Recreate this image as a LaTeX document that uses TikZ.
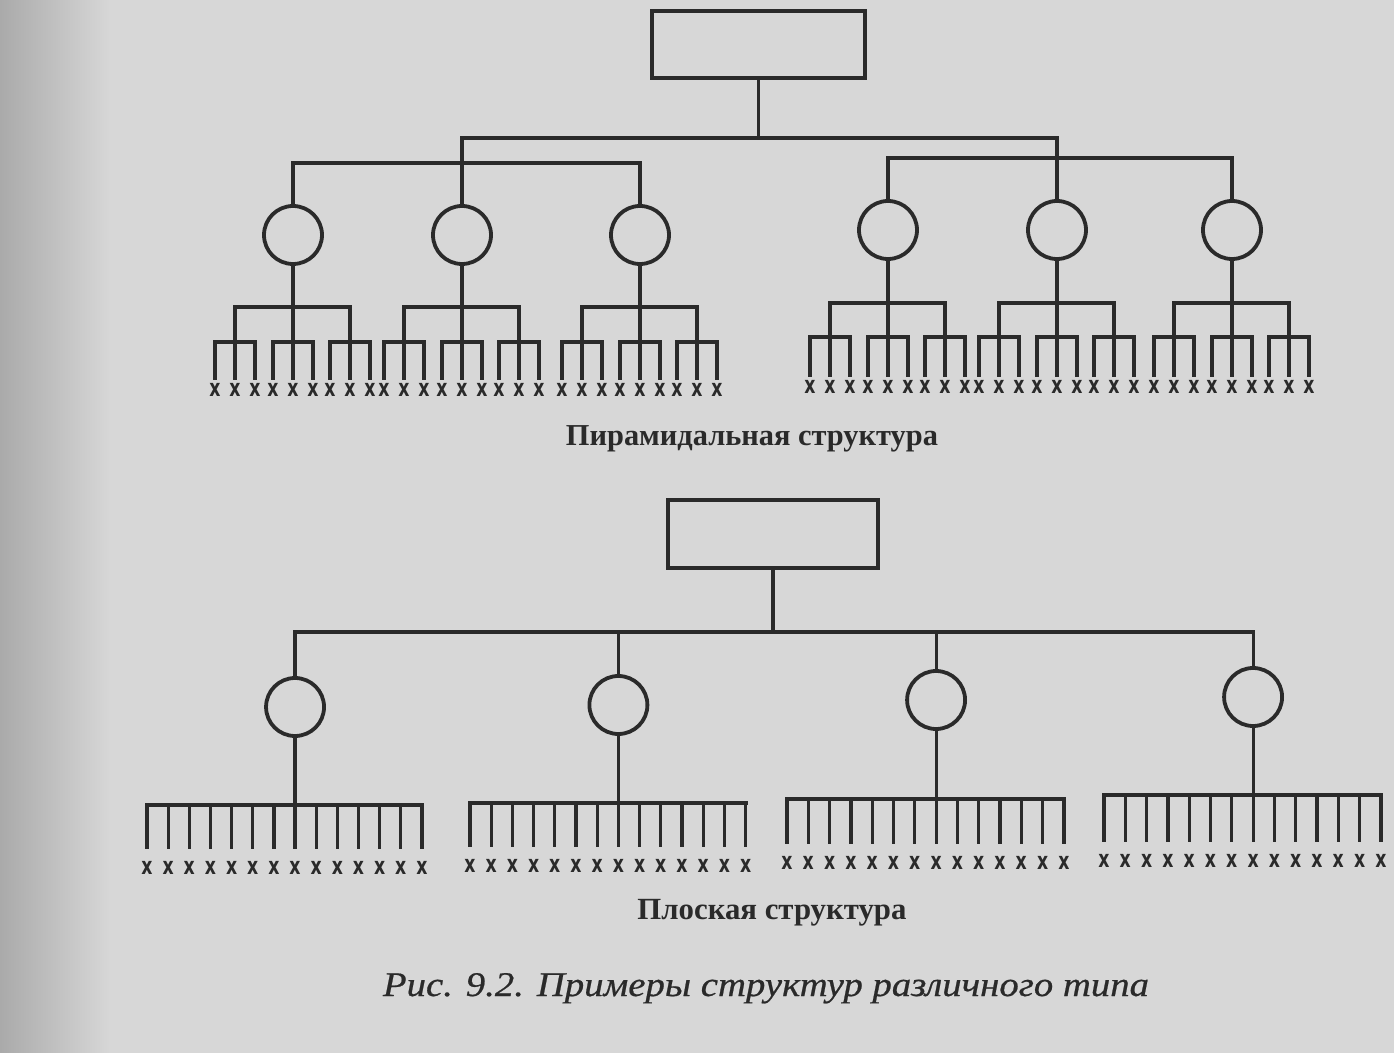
\documentclass[tikz,border=0pt]{standalone}
\usepackage{fontspec}
\setmainfont{Liberation Serif}
\newfontfamily\xfont[FakeStretch=0.72]{DejaVu Sans}
\newfontfamily\capfont[FakeStretch=1.12,FakeBold=0.6]{Liberation Serif}
\definecolor{ink}{RGB}{42,42,42}
\definecolor{paper}{RGB}{215,215,215}
\definecolor{shadow}{RGB}{170,170,170}
\begin{document}
\begin{tikzpicture}[x=0.5pt,y=-0.5pt,
  ln/.style={draw=ink,line width=1.6pt,line cap=rect},
  barln/.style={draw=ink,line width=2.2pt,line cap=rect},
  chief/.style={draw=ink,line width=2.2pt,rectangle,minimum width=106.5pt,minimum height=33.5pt,inner sep=0pt,outer sep=0pt},
  mgr/.style={draw=ink,line width=1.9pt,circle,minimum size=29pt,inner sep=0pt,outer sep=0pt},
  worker/.style={text=ink,font=\xfont\bfseries\fontsize{12pt}{12pt}\selectfont,inner sep=1pt},
  title/.style={text=ink,font=\bfseries\fontsize{15.2pt}{15pt}\selectfont,inner sep=0pt,anchor=base},
  subtitle/.style={text=ink,font=\bfseries\fontsize{15.4pt}{15pt}\selectfont,inner sep=0pt,anchor=base},
  capt/.style={text=ink,font=\capfont\itshape\fontsize{17.3pt}{17pt}\selectfont,inner sep=0pt,anchor=base},
  ]
\useasboundingbox (0,0) rectangle (1394,1053);
\fill[paper] (0,0) rectangle (1394,1053);
\shade[left color=shadow,right color=paper] (0,0) rectangle (110,1053);

% ---------- Pyramid structure ----------
\node[chief] (P) at (758.5,44.5) {};
\coordinate (PB) at (758.5,138);
\coordinate (LB) at (0,163);
\coordinate (RB) at (0,158);
\foreach \i/\cx/\cy in {1/293/235,2/462/235,3/640/235,4/888/230,5/1057/230,6/1232/230}
  \node[mgr] (c\i) at (\cx,\cy) {};
\draw[ln] (P.south) -- (PB);
\draw[barln] (c2 |- PB) -- (c5 |- PB);
\draw[ln] (c2 |- PB) -- (c2.north);
\draw[ln] (c5 |- PB) -- (c5.north);
\draw[barln] (c1 |- LB) -- (c3 |- LB);
\draw[ln] (c1 |- LB) -- (c1.north);
\draw[ln] (c3 |- LB) -- (c3.north);
\draw[barln] (c4 |- RB) -- (c6 |- RB);
\draw[ln] (c4 |- RB) -- (c4.north);
\draw[ln] (c6 |- RB) -- (c6.north);

\foreach \i/\cx/\gy/\fy/\wy in {1/293/307/342/390,2/462/307/342/390,3/640/307/342/390,4/888/303/337/387,5/1057/303/337/387,6/1232/303/337/387}{
  \coordinate (s\i) at (\cx,\gy);
  \draw[ln] (c\i.south) -- (s\i);
  \foreach \f [count=\fj] in {-58,0,57}{
    \coordinate (k\i\fj) at (\cx+\f,\gy);
    \coordinate (f\i\fj) at (\cx+\f,\fy);
    \draw[ln] (k\i\fj) -- (f\i\fj);
    \draw[barln] (\cx+\f-20,\fy) -- (\cx+\f+20,\fy);
    \foreach \p [count=\pj] in {-20,0,20}{
      \node[worker] (w\i\fj\pj) at (\cx+\f+\p,\wy) {x};
      \draw[ln,shorten >=1.1pt] (\cx+\f+\p,\fy) -- (w\i\fj\pj.north);
    }
  }
  \draw[barln] (k\i1) -- (k\i3);
}
\node[title] (ptitle) at (752,446) {Пирамидальная структура};

% ---------- Flat structure ----------
\node[chief,minimum width=105pt,minimum height=34pt] (F) at (773,534) {};
\coordinate (FB) at (773,632);
\draw[ln] (F.south) -- (FB);
\foreach \i/\xo/\dx/\cy/\by/\wy in {1/147/21.15/707/805/868,2/470/21.2/705/803/866,3/787/21.3/700/799/863,4/1104/21.3/697/795/861}{
  \node[mgr] (m\i) at (\xo+7*\dx,\cy) {};
  \draw[ln] (m\i |- FB) -- (m\i.north);
  \coordinate (b\i) at (\xo+7*\dx,\by);
  \draw[ln] (m\i.south) -- (b\i);
  \draw[barln] (\xo,\by) -- (\xo+13*\dx,\by);
  \foreach \k in {0,...,13}{
    \node[worker] (v\i-\k) at (\xo+\k*\dx,\wy) {x};
    \draw[ln,shorten >=5.6pt] (\xo+\k*\dx,\by) -- (v\i-\k.north);
  }
}
\draw[barln] (m1 |- FB) -- (m4 |- FB);
\node[subtitle] (ftitle) at (772,919) {Плоская структура};

\node[capt] (caption) at (766,996) {Рис. 9.2. Примеры структур различного типа};
\end{tikzpicture}
\end{document}
